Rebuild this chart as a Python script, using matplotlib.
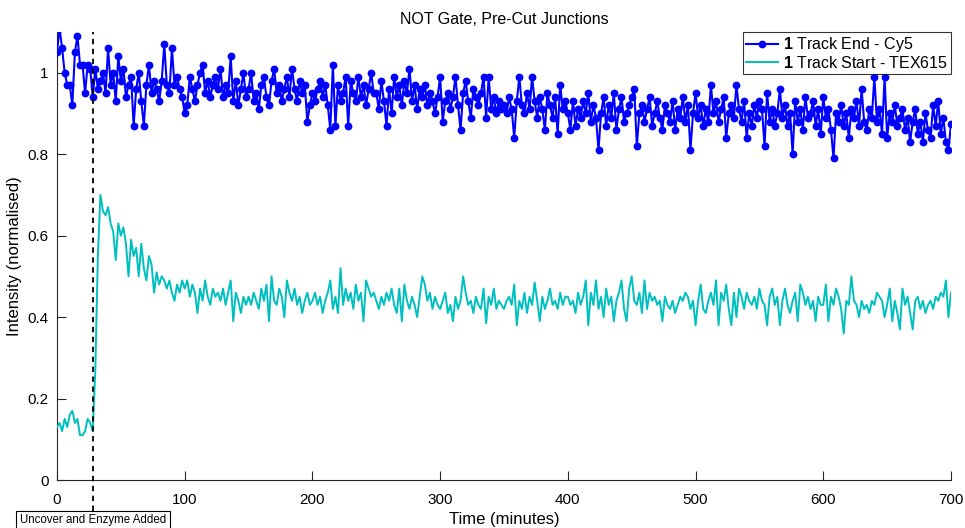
import numpy as np
import matplotlib
matplotlib.use("Agg")
import matplotlib.pyplot as plt
from matplotlib.patches import Rectangle

plt.rcParams['font.family'] = ['Liberation Sans', 'DejaVu Sans']
plt.rcParams['mathtext.fontset'] = 'custom'
plt.rcParams['mathtext.bf'] = 'Liberation Sans:bold'
plt.rcParams['mathtext.rm'] = 'Liberation Sans'

# Sampling times (minutes)
time_min = np.arange(0, 701, 2)

# Track End - Cy5 (normalised intensity)
cy5_end = [
    1.05, 1.11, 1.06, 1.00, 0.97, 0.97, 0.92, 1.05, 1.09, 1.02, 1.02, 0.95, 1.02, 1.01, 0.94, 1.01, 0.96, 0.98, 1.00, 0.95, 1.06, 0.97, 1.00, 0.93, 1.04,
    0.98, 1.01, 0.94, 0.97, 0.99, 0.87, 0.96, 1.00, 0.93, 0.87, 0.97, 1.02, 0.95, 0.98, 0.96, 0.93, 0.98, 1.07, 0.97, 0.95, 1.06, 0.97, 0.99, 0.96, 0.94,
    0.90, 0.92, 0.99, 0.96, 0.93, 0.97, 1.00, 1.02, 0.95, 0.98, 0.94, 0.97, 0.99, 0.96, 1.01, 0.94, 0.97, 0.95, 1.04, 0.93, 0.98, 0.92, 0.96, 1.00, 0.94,
    0.96, 1.00, 0.93, 0.95, 0.91, 0.97, 0.99, 0.94, 0.92, 0.98, 1.01, 0.95, 0.97, 0.93, 0.96, 0.99, 0.94, 1.01, 0.96, 0.93, 0.98, 0.95, 0.97, 0.88, 0.92,
    0.95, 0.93, 0.96, 0.98, 0.94, 0.97, 0.92, 0.86, 1.02, 0.87, 0.97, 0.93, 0.95, 0.99, 0.87, 0.98, 0.95, 0.93, 0.99, 0.94, 0.97, 0.92, 0.96, 1.00, 0.95,
    0.95, 0.91, 0.98, 0.93, 0.87, 0.96, 0.90, 0.99, 0.94, 0.97, 0.92, 0.98, 0.95, 1.01, 0.93, 0.97, 0.91, 0.96, 0.94, 0.97, 0.92, 0.95, 0.93, 0.90, 0.94,
    0.99, 0.88, 0.93, 0.95, 0.91, 0.94, 0.99, 0.92, 0.86, 0.95, 0.98, 0.93, 0.89, 0.96, 0.94, 0.92, 0.95, 0.99, 0.89, 0.99, 0.91, 0.94, 0.90, 0.93, 0.91,
    0.92, 0.90, 0.94, 0.91, 0.84, 0.93, 0.99, 0.92, 0.90, 0.95, 0.91, 0.99, 0.93, 0.89, 0.94, 0.91, 0.86, 0.95, 0.92, 0.89, 0.94, 0.85, 0.97, 0.91, 0.93,
    0.90, 0.86, 0.93, 0.87, 0.91, 0.89, 0.93, 0.90, 0.95, 0.88, 0.92, 0.89, 0.81, 0.90, 0.94, 0.87, 0.92, 0.89, 0.95, 0.86, 0.91, 0.94, 0.88, 0.90, 0.92,
    0.94, 0.96, 0.82, 0.90, 0.92, 0.88, 0.91, 0.94, 0.87, 0.90, 0.93, 0.89, 0.86, 0.92, 0.90, 0.88, 0.93, 0.86, 0.91, 0.89, 0.94, 0.88, 0.92, 0.81, 0.90,
    0.95, 0.89, 0.92, 0.87, 0.91, 0.88, 0.97, 0.90, 0.93, 0.88, 0.91, 0.94, 0.84, 0.90, 0.92, 0.89, 0.97, 0.91, 0.88, 0.93, 0.84, 0.90, 0.87, 0.92, 0.89,
    0.93, 0.91, 0.82, 0.95, 0.88, 0.91, 0.87, 0.90, 0.96, 0.89, 0.92, 0.87, 0.90, 0.80, 0.93, 0.88, 0.91, 0.86, 0.94, 0.89, 0.90, 0.93, 0.87, 0.91, 0.85,
    0.94, 0.89, 0.91, 0.86, 0.79, 0.90, 0.88, 0.92, 0.87, 0.90, 0.84, 0.91, 0.89, 0.93, 0.87, 0.96, 0.88, 0.86, 0.91, 0.89, 0.99, 0.88, 0.91, 0.85, 0.99,
    0.84, 0.90, 0.88, 0.92, 0.87, 0.89, 0.91, 0.86, 0.89, 0.83, 0.88, 0.91, 0.85, 0.88, 0.83, 0.90, 0.86, 0.84, 0.92, 0.87, 0.93, 0.85, 0.89, 0.83, 0.81,
    0.875,
]

# Track Start - TEX615 (normalised intensity)
tex615_start = [
    0.13, 0.14, 0.12, 0.15, 0.13, 0.16, 0.17, 0.14, 0.15, 0.11, 0.11, 0.12, 0.15, 0.14, 0.12, 0.27, 0.55, 0.70, 0.66, 0.65, 0.67, 0.63, 0.61, 0.54, 0.63,
    0.60, 0.62, 0.58, 0.50, 0.59, 0.55, 0.57, 0.50, 0.58, 0.52, 0.49, 0.55, 0.53, 0.46, 0.51, 0.48, 0.50, 0.49, 0.47, 0.49, 0.46, 0.44, 0.48, 0.46, 0.49,
    0.47, 0.49, 0.45, 0.48, 0.46, 0.41, 0.47, 0.44, 0.49, 0.45, 0.43, 0.47, 0.45, 0.46, 0.44, 0.47, 0.43, 0.46, 0.49, 0.39, 0.46, 0.44, 0.41, 0.45, 0.43,
    0.45, 0.43, 0.46, 0.44, 0.42, 0.47, 0.44, 0.48, 0.39, 0.50, 0.44, 0.43, 0.47, 0.45, 0.40, 0.49, 0.46, 0.44, 0.47, 0.43, 0.45, 0.41, 0.44, 0.46, 0.43,
    0.44, 0.46, 0.43, 0.45, 0.41, 0.44, 0.46, 0.49, 0.42, 0.45, 0.41, 0.52, 0.43, 0.47, 0.44, 0.46, 0.42, 0.48, 0.44, 0.46, 0.39, 0.49, 0.47, 0.45, 0.46,
    0.44, 0.42, 0.45, 0.43, 0.46, 0.44, 0.47, 0.43, 0.41, 0.47, 0.39, 0.48, 0.44, 0.42, 0.45, 0.43, 0.40, 0.45, 0.50, 0.48, 0.44, 0.46, 0.42, 0.45, 0.43,
    0.42, 0.44, 0.46, 0.41, 0.43, 0.39, 0.45, 0.42, 0.44, 0.50, 0.46, 0.43, 0.44, 0.41, 0.45, 0.43, 0.42, 0.47, 0.385, 0.45, 0.43, 0.47, 0.42, 0.44, 0.43,
    0.42, 0.44, 0.45, 0.43, 0.48, 0.38, 0.44, 0.42, 0.46, 0.41, 0.45, 0.43, 0.485, 0.44, 0.39, 0.45, 0.42, 0.44, 0.47, 0.43, 0.44, 0.42, 0.46, 0.43, 0.45,
    0.45, 0.43, 0.44, 0.41, 0.46, 0.43, 0.45, 0.49, 0.38, 0.46, 0.43, 0.49, 0.42, 0.45, 0.40, 0.47, 0.43, 0.45, 0.39, 0.44, 0.46, 0.49, 0.42, 0.39, 0.47,
    0.50, 0.44, 0.43, 0.46, 0.41, 0.49, 0.42, 0.46, 0.44, 0.45, 0.43, 0.44, 0.39, 0.45, 0.43, 0.42, 0.44, 0.41, 0.43, 0.45, 0.44, 0.46, 0.45, 0.42, 0.44,
    0.38, 0.44, 0.48, 0.42, 0.41, 0.44, 0.46, 0.43, 0.49, 0.38, 0.46, 0.44, 0.48, 0.42, 0.38, 0.46, 0.40, 0.47, 0.45, 0.42, 0.46, 0.44, 0.43, 0.45, 0.42,
    0.47, 0.44, 0.43, 0.38, 0.45, 0.47, 0.43, 0.45, 0.38, 0.44, 0.47, 0.43, 0.41, 0.44, 0.46, 0.39, 0.48, 0.46, 0.43, 0.45, 0.42, 0.44, 0.39, 0.45, 0.43,
    0.43, 0.48, 0.39, 0.45, 0.43, 0.47, 0.45, 0.42, 0.36, 0.44, 0.43, 0.50, 0.44, 0.43, 0.40, 0.44, 0.42, 0.43, 0.41, 0.44, 0.43, 0.46, 0.45, 0.44, 0.40,
    0.43, 0.47, 0.39, 0.44, 0.41, 0.37, 0.47, 0.43, 0.45, 0.41, 0.37, 0.44, 0.45, 0.42, 0.44, 0.41, 0.43, 0.44, 0.42, 0.45, 0.44, 0.46, 0.45, 0.49, 0.40,
    0.46,
]

event_time = 28
x_ticks = [0, 100, 200, 300, 400, 500, 600, 700]
y_ticks = [0, 0.2, 0.4, 0.6, 0.8, 1.0]
y_tick_labels = ["0", "0.2", "0.4", "0.6", "0.8", "1"]

W, H = 965, 528
fig = plt.figure(figsize=(W / 100, H / 100), dpi=100)
ax = fig.add_axes([57 / W, 1 - 480 / H, (951 - 57) / W, (480 - 32) / H])

axis_color = (0.15, 0.15, 0.15)

ax.plot(time_min, cy5_end, color=(0, 0, 1), lw=1.5, marker='o', ms=4.6,
        label=r"$\mathbf{1}$ Track End - Cy5", zorder=3)
ax.plot(time_min, tex615_start, color=(0, 0.75, 0.75), lw=1.4,
        label=r"$\mathbf{1}$ Track Start - TEX615", zorder=3)

ax.axvline(event_time, ymin=-0.069, ymax=1, color='black', ls=(0, (3, 2.5)),
           lw=1.3, clip_on=False, zorder=4)

ax.set_xlim(0, 700)
ax.set_ylim(0, 1.1)
ax.set_xticks(x_ticks)
ax.set_yticks(y_ticks)
ax.set_yticklabels(y_tick_labels)

for side in ('top', 'right'):
    ax.spines[side].set_visible(False)
for side in ('left', 'bottom'):
    ax.spines[side].set_color(axis_color)
    ax.spines[side].set_linewidth(0.8)
ax.tick_params(direction='in', length=6.5, width=0.8, colors=axis_color,
               labelcolor='black', labelsize=11)
ax.tick_params(axis='x', pad=9)
ax.tick_params(axis='y', pad=6)

ax.set_title("NOT Gate, Pre-Cut Junctions", fontsize=11.5, pad=6)
ax.set_xlabel("Time (minutes)", fontsize=12, labelpad=4)
ax.set_ylabel("Intensity (normalised)", fontsize=12, labelpad=4)

leg = ax.legend(loc='upper right', fontsize=11.5, frameon=True, fancybox=False,
                edgecolor='black', borderpad=0.2, handlelength=2.0,
                handletextpad=0.3, labelspacing=0.05, borderaxespad=0.0)
leg.get_frame().set_linewidth(0.8)

# Event annotation box under the axes
fig.patches.append(Rectangle((16 / W, -5 / H), (170 - 16) / W, (17 + 5) / H,
                             transform=fig.transFigure, facecolor='white',
                             edgecolor='black', lw=0.8))
fig.text(20 / W, 1 - 520.5 / H, "Uncover and Enzyme Added", fontsize=8.3,
         va='center', ha='left')

fig.savefig("out.png", dpi=100)
